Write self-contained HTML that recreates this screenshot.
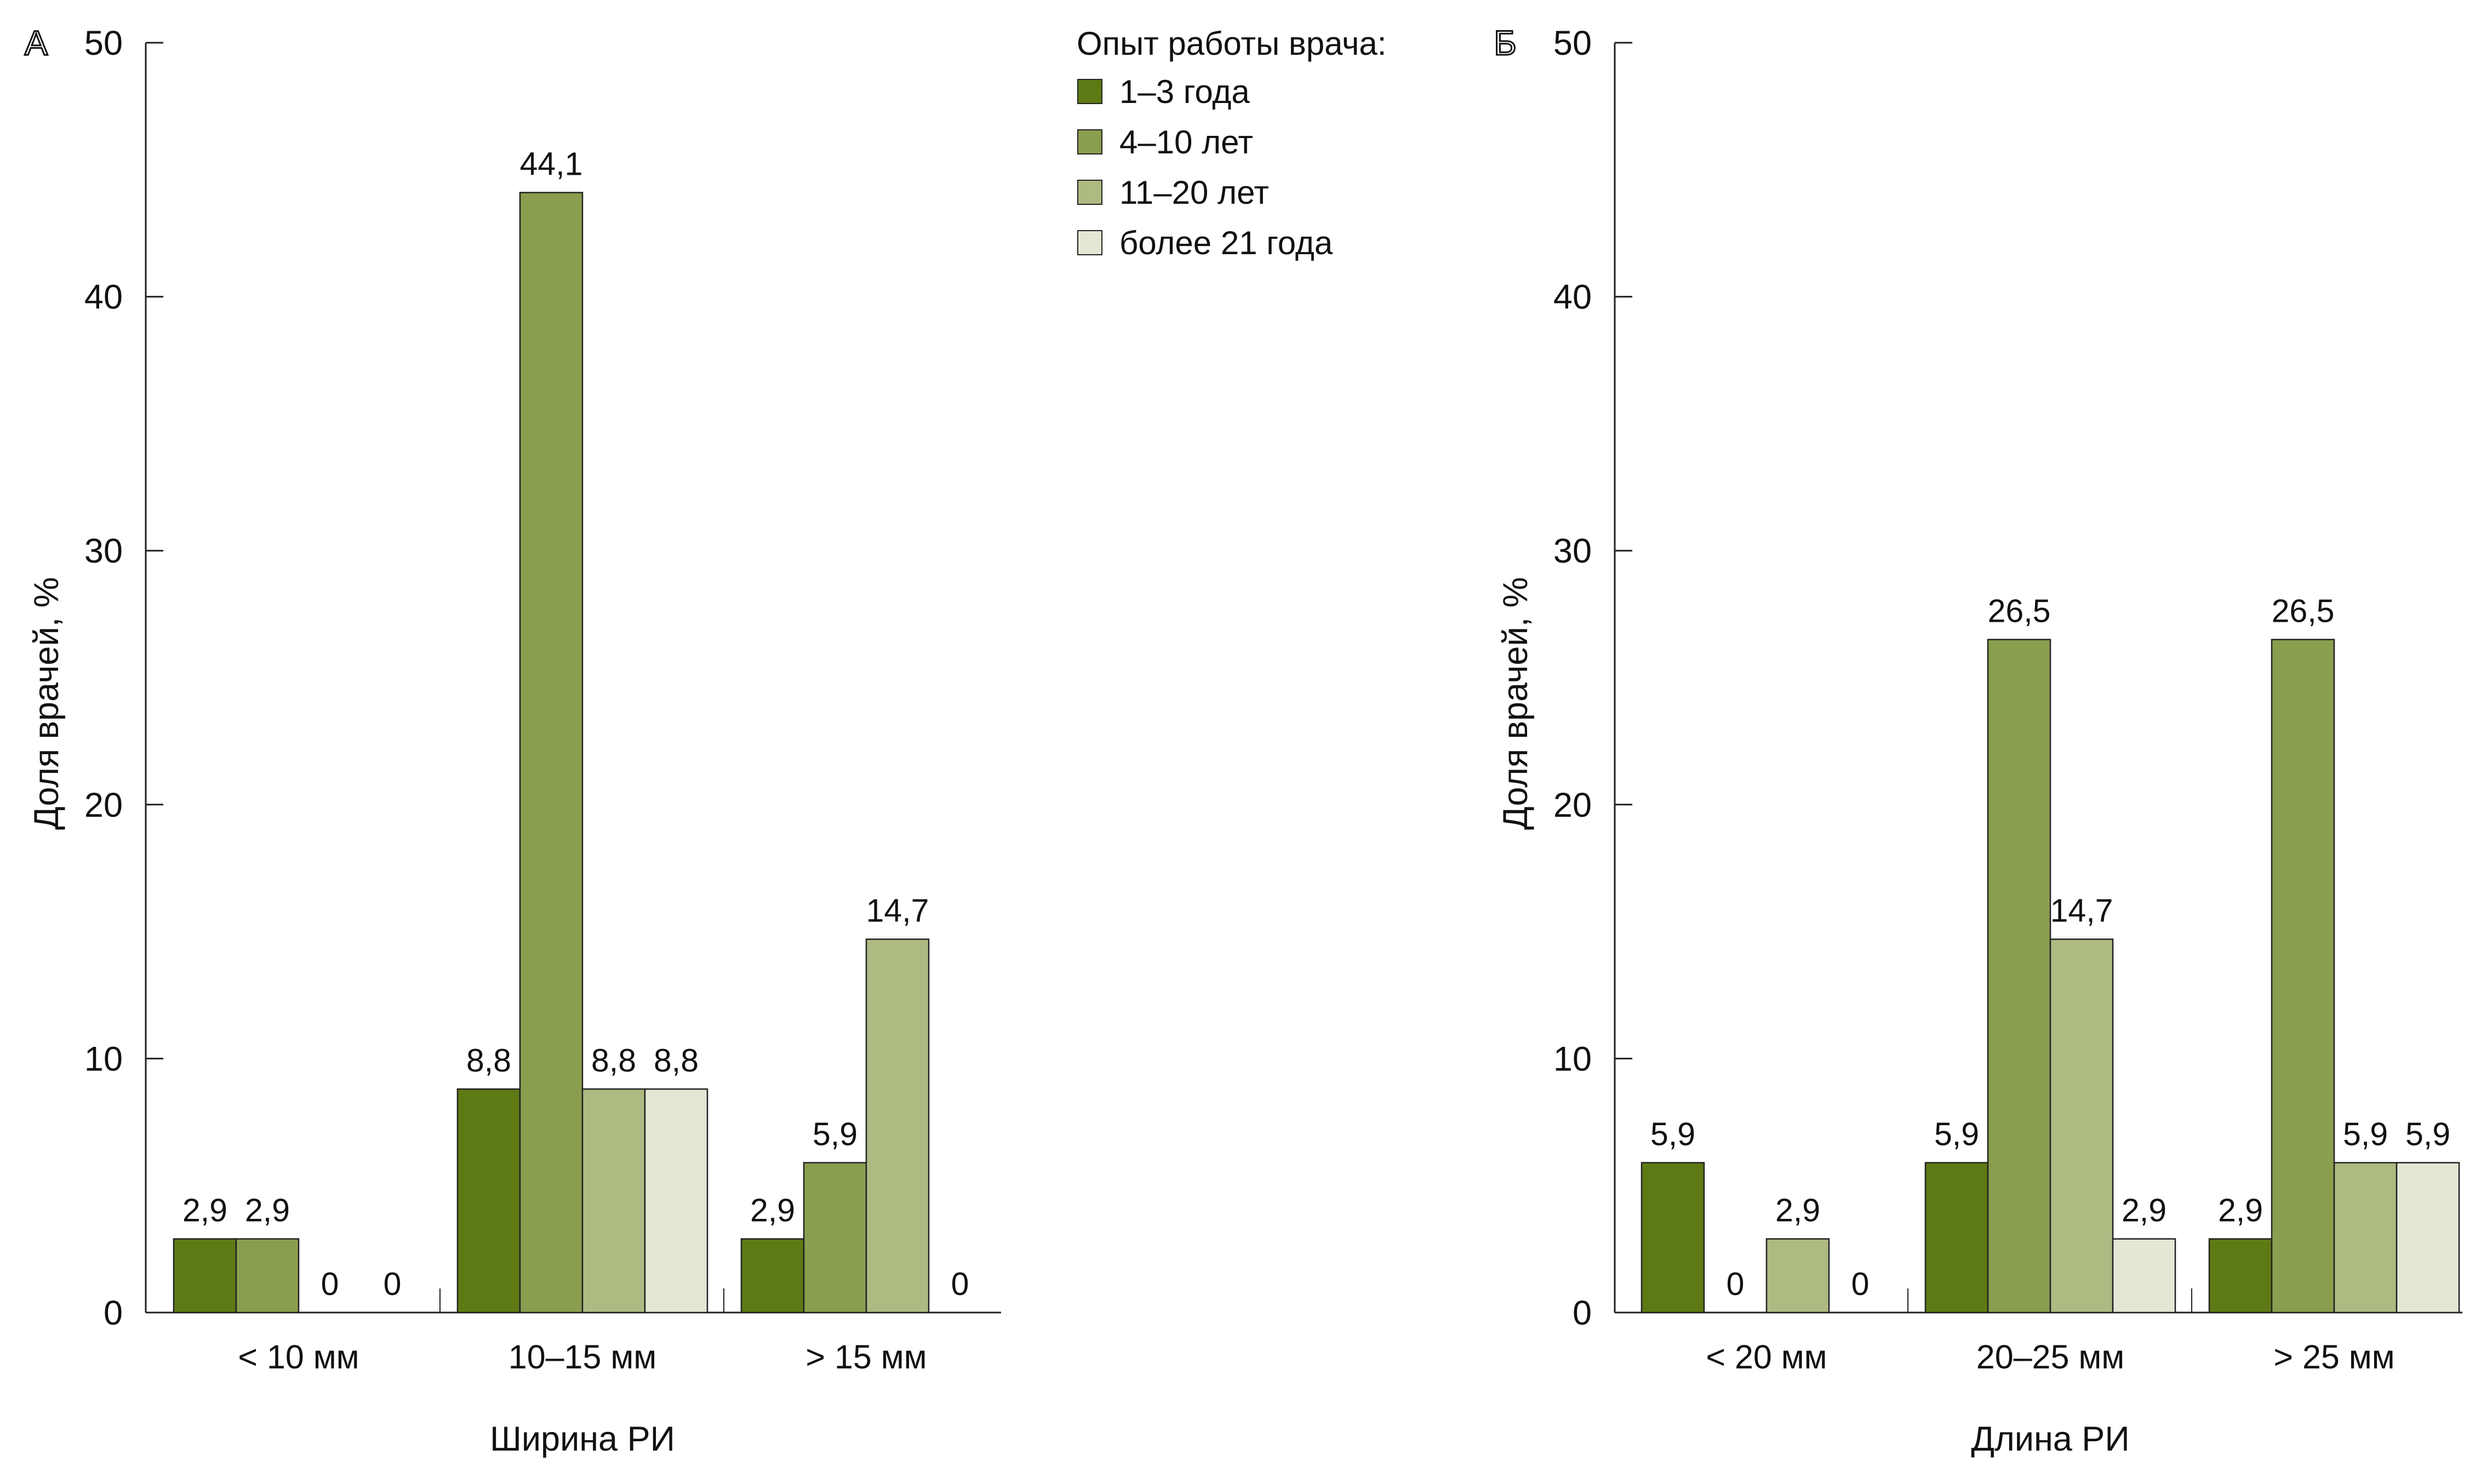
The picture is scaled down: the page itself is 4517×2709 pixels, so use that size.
<!DOCTYPE html>
<html><head><meta charset="utf-8">
<style>
html,body{margin:0;padding:0;background:#fff;}
svg{display:block;font-family:"Liberation Sans",sans-serif;}
</style></head>
<body>
<svg id="chart" width="4517" height="2709" viewBox="0 0 4517 2709" xmlns="http://www.w3.org/2000/svg">
<g font-size="60" fill="#111">
<text x="1965" y="100">Опыт работы врача:</text>
<rect x="1967" y="145" width="44" height="44" fill="#5e7a14" stroke="#222" stroke-width="2"/>
<text x="2043" y="188">1–3 года</text>
<rect x="1967" y="237" width="44" height="44" fill="#8a9e4f" stroke="#222" stroke-width="2"/>
<text x="2043" y="280">4–10 лет</text>
<rect x="1967" y="329" width="44" height="44" fill="#adba82" stroke="#222" stroke-width="2"/>
<text x="2043" y="372">11–20 лет</text>
<rect x="1967" y="421" width="44" height="44" fill="#e3e8d5" stroke="#222" stroke-width="2"/>
<text x="2043" y="464">более 21 года</text>
</g>
</svg>
<script>
const yTicks = [0, 10, 20, 30, 40, 50];
const catsA = ["< 10 мм", "10–15 мм", "> 15 мм"];
const catsB = ["< 20 мм", "20–25 мм", "> 25 мм"];
const seriesLabels = ["1–3 года", "4–10 лет", "11–20 лет", "более 21 года"];
const a_s1 = [2.9, 8.8, 2.9];
const a_s2 = [2.9, 44.1, 5.9];
const a_s3 = [0, 8.8, 14.7];
const a_s4 = [0, 8.8, 0];
const b_s1 = [5.9, 5.9, 2.9];
const b_s2 = [0, 26.5, 26.5];
const b_s3 = [2.9, 14.7, 5.9];
const b_s4 = [0, 2.9, 5.9];

const NS = "http://www.w3.org/2000/svg";
const svg = document.getElementById('chart');
const colors = ["#5e7a14", "#8a9e4f", "#adba82", "#e3e8d5"];
function mk(tag, attrs, parent, txt) {
  const e = document.createElementNS(NS, tag);
  for (const k in attrs) e.setAttribute(k, attrs[k]);
  if (txt !== undefined) e.textContent = txt;
  parent.appendChild(e);
  return e;
}
function panel(key, axisX, axisEnd, firstGroup, cats, series, letter, title) {
  const y0 = 2396, y50 = 78;
  const yS = v => y0 - (v / 50) * (y0 - y50);
  const g = mk('g', {}, svg);
  
  
  const ax = mk('line', {x1: axisX, y1: y50, x2: axisX, y2: y0, stroke: '#222', 'stroke-width': 3}, g);
  
  
  const xa = mk('line', {x1: axisX, y1: y0, x2: axisEnd, y2: y0, stroke: '#222', 'stroke-width': 3}, g);
  
  
  yTicks.forEach(t => {
    const tl = mk('line', {x1: axisX, y1: yS(t), x2: axisX + 32, y2: yS(t), stroke: '#222', 'stroke-width': 3}, g);
    
    
    const tx = mk('text', {x: axisX - 42, y: yS(t) + 22, 'text-anchor': 'end', 'font-size': 63, fill: '#111'}, g, String(t));
    
    
  });
  const groupW = 518, barW = 114;
  cats.forEach((c, i) => {
    const gx = firstGroup + i * groupW;
    if (i > 0) {
      const sep = mk('line', {x1: gx - 32, y1: y0 - 44, x2: gx - 32, y2: y0, stroke: '#222', 'stroke-width': 2}, g);
      
      
    }
    series.forEach((s, j) => {
      const v = s[i];
      const x = gx + j * barW;
      if (v > 0) {
        const r = mk('rect', {x: x, y: yS(v), width: barW, height: y0 - yS(v), fill: colors[j], stroke: '#222', 'stroke-width': 2.5}, g);
        
        
      }
      const lbl = mk('text', {x: x + barW / 2, y: yS(v) - 32, 'text-anchor': 'middle', 'font-size': 59, fill: '#111'}, g, String(v).replace('.', ','));
      
      
    });
    const cl = mk('text', {x: gx + 2 * barW, y: 2498, 'text-anchor': 'middle', 'font-size': 61, fill: '#111'}, g, c);
    
    
  });
  const xt = mk('text', {x: firstGroup + groupW + 2 * barW, y: 2648, 'text-anchor': 'middle', 'font-size': 63, fill: '#111'}, g, title);
  
  
  const yt = mk('text', {x: 0, y: 0, 'text-anchor': 'middle', 'font-size': 63, fill: '#111', transform: 'translate(' + (axisX - 160) + ',1284) rotate(-90)'}, g, 'Доля врачей, %');
  
  
  const lt = mk('text', {x: axisX - 200, y: 100, 'text-anchor': 'middle', 'font-size': 63, fill: '#fff', stroke: '#111', 'stroke-width': 3}, g, letter);
  
  
}
panel('a', 266, 1827, 317, catsA, [a_s1, a_s2, a_s3, a_s4], 'А', 'Ширина РИ');
panel('b', 2947, 4494, 2996, catsB, [b_s1, b_s2, b_s3, b_s4], 'Б', 'Длина РИ');
</script>
</body></html>
